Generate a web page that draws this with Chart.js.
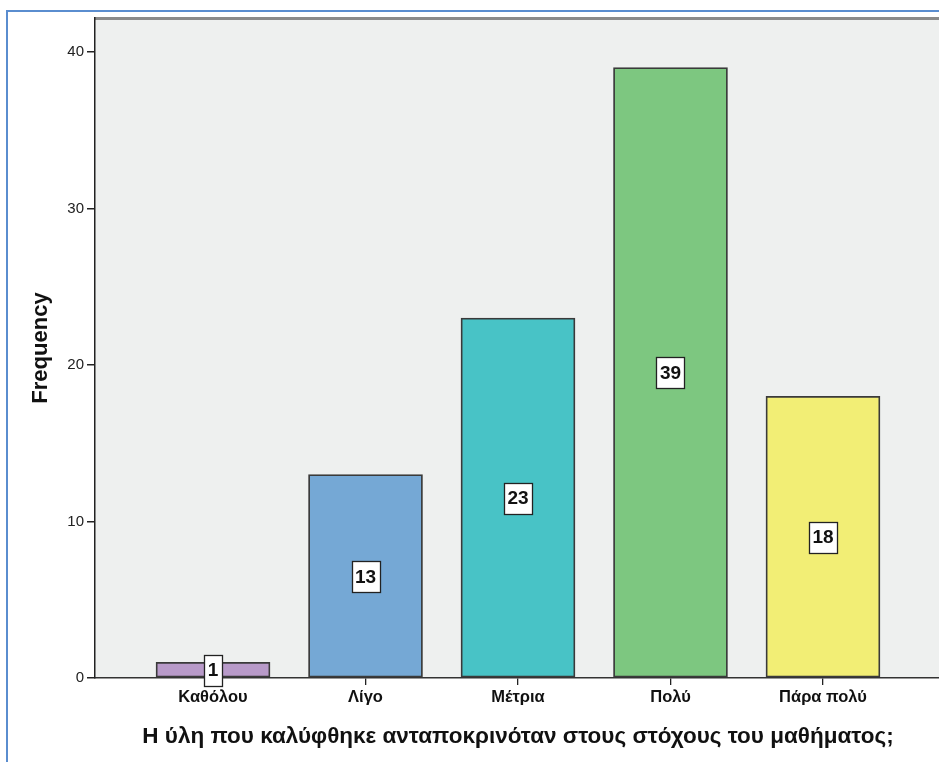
<!DOCTYPE html>
<html>
<head>
<meta charset="utf-8">
<script src="https://cdn.jsdelivr.net/npm/chart.js@4/dist/chart.umd.min.js"></script>
<style>
  html, body { margin: 0; padding: 0; background: #ffffff; overflow: hidden; }
  #wrap { position: relative; width: 939px; height: 762px; overflow: hidden; }
  #frame { position: absolute; left: 6px; top: 10px; width: 940px; height: 760px;
           border-left: 2px solid #5a8dcf; border-top: 2px solid #5a8dcf; pointer-events: none; }
  canvas { position: absolute; left: 0; top: 0; }
</style>
</head>
<body>
<div id="wrap">
  <canvas id="c" width="945" height="762"></canvas>
  <div id="frame"></div>
</div>
<script>
// ---- data ----
const categories = ["Καθόλου", "Λίγο", "Μέτρια", "Πολύ", "Πάρα πολύ"];
const frequencies = [1, 13, 23, 39, 18];
const barColors = ["#b89ac9", "#75a8d5", "#48c3c6", "#7dc780", "#f2ee75"];
const yTicks = [0, 10, 20, 30, 40];
const xTitle = "Η ύλη που καλύφθηκε ανταποκρινόταν στους στόχους του μαθήματος;";
const yTitle = "Frequency";

const FONT = "'Liberation Sans', Arial, sans-serif";

const plotBg = {
  id: 'plotBg',
  beforeDraw(chart) {
    const {ctx, chartArea: a} = chart;
    ctx.save();
    ctx.fillStyle = '#eef0ef';
    ctx.fillRect(a.left, a.top, a.right - a.left, a.bottom - a.top);
    ctx.fillStyle = '#8a8a8a';
    ctx.fillRect(a.left, a.top - 1, a.right - a.left, 3);
    ctx.restore();
  }
};

const valueBoxes = {
  id: 'valueBoxes',
  afterDatasetsDraw(chart) {
    const {ctx} = chart;
    const meta = chart.getDatasetMeta(0);
    const yScale = chart.scales.y;
    ctx.save();
    ctx.font = "bold 19px " + FONT;
    ctx.textAlign = 'center';
    ctx.textBaseline = 'middle';
    meta.data.forEach((bar, i) => {
      const v = frequencies[i];
      const cx = bar.x;
      const cy = yScale.getPixelForValue(v / 2);
      const txt = String(v);
      const w = Math.round(ctx.measureText(txt).width + 7);
      const h = 31;
      const x0 = Math.round(cx - w / 2), y0 = Math.round(cy - h / 2);
      ctx.fillStyle = '#ffffff';
      ctx.fillRect(x0, y0, w, h);
      ctx.strokeStyle = '#222222';
      ctx.lineWidth = 1.3;
      ctx.strokeRect(x0 + 0.5, y0 + 0.5, w, h);
      ctx.fillStyle = '#111111';
      ctx.fillText(txt, cx, cy + 1);
    });
    ctx.restore();
  }
};

new Chart(document.getElementById('c'), {
  type: 'bar',
  data: {
    datasets: [{
      data: frequencies.map((v, i) => ({x: i, y: v})),
      backgroundColor: barColors,
      borderColor: '#3a3a3a',
      borderWidth: 1.8,
      borderSkipped: false,
      barThickness: 114
    }]
  },
  options: {
    responsive: false,
    animation: false,
    devicePixelRatio: 1,
    layout: { padding: { left: 0, top: 18, right: 4, bottom: 0 } },
    plugins: { legend: { display: false }, tooltip: { enabled: false } },
    scales: {
      x: {
        type: 'linear',
        offset: false,
        min: -0.774,
        max: 4.774,
        afterBuildTicks(scale) { scale.ticks = categories.map((_, i) => ({value: i})); },
        afterFit(scale) { scale.height = 84; },
        ticks: {
          autoSkip: false,
          maxRotation: 0,
          padding: 3,
          color: '#111111',
          font: { family: FONT, size: 16.5, weight: 'bold' },
          callback: (v) => categories[v]
        },
        grid: { display: true, offset: false, drawOnChartArea: false, drawTicks: true, tickLength: 7, color: '#222222', lineWidth: 1.3 },
        border: { display: true, color: '#333333', width: 1.5 },
        title: {
          display: true, text: xTitle, color: '#111111',
          font: { family: FONT, size: 22.5, weight: 'bold' },
          padding: { top: 0, bottom: 12 }
        }
      },
      y: {
        type: 'linear',
        min: 0,
        max: 42.17,
        afterBuildTicks(scale) { scale.ticks = yTicks.map(v => ({value: v})); },
        afterFit(scale) { scale.width = 95; },
        ticks: {
          padding: 3,
          color: '#222222',
          font: { family: FONT, size: 15 }
        },
        grid: { display: true, drawOnChartArea: false, drawTicks: true, tickLength: 8, color: '#222222', lineWidth: 1.5 },
        border: { display: true, color: '#222222', width: 1.5 },
        title: {
          display: true, text: yTitle, color: '#111111',
          font: { family: FONT, size: 22, weight: 'bold' },
          padding: { top: 28, bottom: 0 }
        }
      }
    }
  },
  plugins: [plotBg, valueBoxes]
});
</script>
</body>
</html>
